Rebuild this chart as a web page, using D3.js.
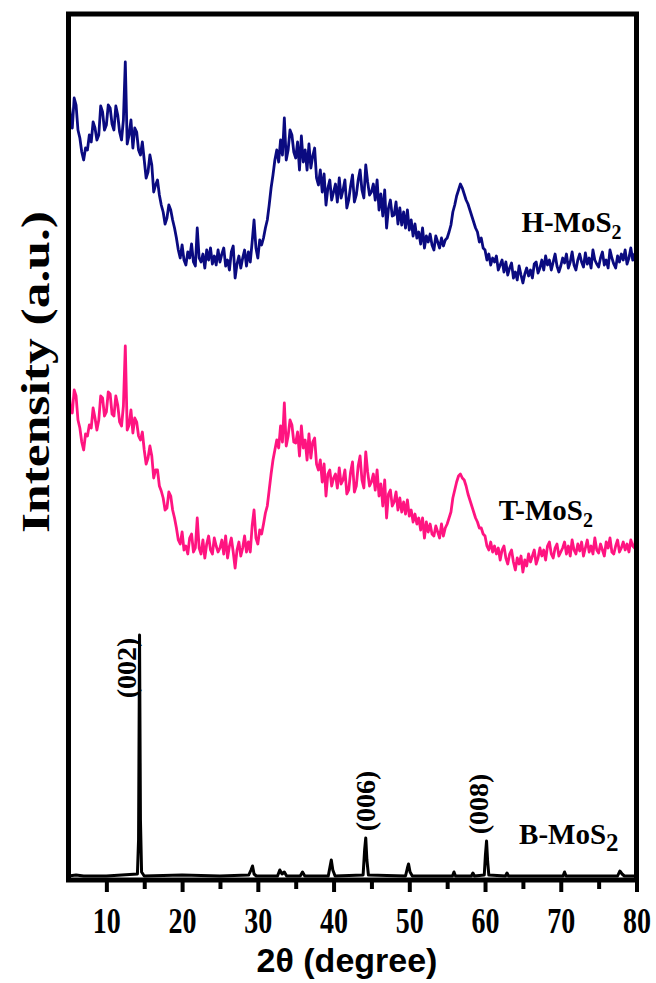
<!DOCTYPE html>
<html>
<head>
<meta charset="utf-8">
<script src="https://cdn.jsdelivr.net/npm/d3@7"></script>
<style>
  body { margin: 0; background: #fff; }
  svg { display: block; }
</style>
</head>
<body>
<script>
const w = 656;
const h = 983;

// 2theta grid for the two broad patterns (0.25 deg steps, 5..80)
const angles = d3.range(5, 80.001, 0.25);

// H-MoS2 intensity (a.u., before offset), one row = 5 degrees
const hMoS2 = [
  225, 205, 192, 222, 215, 190, 182, 168, 160, 172, 170, 185, 178, 198, 192, 180, 185, 214, 208, 190,
  195, 215, 212, 196, 190, 214, 205, 188, 180, 200, 258, 176, 185, 200, 172, 192, 188, 170, 165, 178,
  160, 142, 148, 165, 155, 128, 135, 140, 125, 115, 108, 96, 102, 115, 110, 100, 92, 82, 70, 62,
  75, 60, 55, 68, 62, 76, 58, 54, 92, 62, 58, 66, 52, 70, 60, 72, 56, 64, 55, 70,
  58, 66, 72, 54, 60, 50, 68, 74, 42, 56, 64, 52, 62, 70, 54, 68, 58, 78, 100, 72,
  62, 80, 75, 82, 92, 100, 115, 132, 145, 160, 170, 158, 180, 165, 202, 160, 170, 190, 185, 168,
  162, 178, 150, 184, 158, 170, 150, 176, 152, 164, 172, 142, 135, 150, 128, 146, 115, 132, 140, 120,
  128, 136, 118, 142, 122, 130, 140, 112, 120, 134, 145, 118, 125, 140, 150, 130, 122, 155, 138, 125,
  128, 136, 120, 140, 110, 126, 104, 130, 92, 112, 120, 104, 105, 118, 96, 112, 95, 108, 92, 110,
  90, 100, 84, 96, 82, 88, 76, 92, 72, 84, 78, 86, 75, 70, 84, 78, 72, 82, 74, 80,
  82, 88, 95, 108, 115, 124, 130, 136, 132, 126, 120, 116, 110, 104, 98, 92, 88, 78, 82, 72,
  70, 60, 66, 55, 62, 58, 64, 50, 55, 60, 48, 58, 45, 52, 57, 42, 48, 40, 54, 45,
  37, 46, 52, 44, 50, 42, 56, 58, 47, 52, 60, 50, 64, 55, 60, 50, 58, 66, 54, 48,
  54, 62, 57, 66, 52, 58, 68, 55, 50, 60, 66, 58, 53, 67, 56, 62, 52, 70, 60, 56,
  53, 62, 68, 55, 60, 52, 70, 62, 56, 52, 64, 58, 66, 60, 70, 56, 62, 72, 60, 66,
  48
];

// T-MoS2 intensity (a.u., before offset)
const tMoS2 = [
  228, 200, 195, 218, 212, 188, 180, 166, 158, 174, 172, 183, 180, 200, 190, 178, 188, 212, 210, 192,
  196, 216, 214, 194, 192, 212, 203, 186, 182, 202, 262, 178, 183, 198, 175, 190, 186, 172, 168, 176,
  158, 144, 150, 162, 152, 130, 138, 138, 122, 117, 110, 98, 100, 116, 112, 98, 90, 80, 68, 64,
  76, 58, 62, 54, 70, 74, 56, 60, 90, 60, 54, 68, 50, 64, 72, 58, 54, 70, 62, 56,
  60, 68, 54, 72, 50, 62, 70, 56, 40, 58, 66, 52, 60, 72, 56, 66, 56, 82, 98, 70,
  64, 78, 74, 84, 95, 102, 118, 134, 148, 158, 168, 160, 182, 166, 205, 162, 172, 188, 183, 166,
  165, 176, 152, 182, 160, 168, 148, 174, 150, 166, 170, 144, 138, 148, 126, 144, 112, 134, 138, 122,
  130, 134, 120, 140, 124, 128, 138, 114, 118, 136, 146, 116, 122, 142, 152, 128, 120, 156, 136, 122,
  126, 134, 118, 138, 112, 124, 102, 128, 90, 114, 118, 102, 106, 116, 98, 110, 96, 106, 94, 108,
  92, 98, 86, 94, 84, 90, 78, 90, 70, 86, 76, 84, 74, 72, 82, 76, 70, 84, 72, 80,
  84, 90, 96, 110, 118, 126, 132, 134, 130, 128, 122, 114, 108, 102, 96, 90, 86, 80, 80, 74,
  72, 62, 58, 66, 56, 62, 54, 60, 48, 58, 62, 50, 44, 54, 58, 46, 38, 50, 44, 52,
  36, 48, 42, 54, 46, 52, 58, 44, 50, 60, 52, 58, 48, 62, 66, 54, 50, 60, 64, 52,
  56, 60, 66, 54, 62, 52, 68, 58, 54, 64, 57, 66, 52, 60, 68, 56, 62, 54, 70, 58,
  55, 64, 58, 52, 66, 60, 70, 56, 54, 62, 68, 56, 60, 66, 58, 64, 56, 68, 62, 60,
  80
];

// B-MoS2 (bulk) pattern, sharp reflections
const bAngles = [
  5, 6, 7, 10, 14.1, 14.25, 14.38, 14.5, 14.65, 15, 20, 25, 28.8, 29.1, 29.3, 29.5, 29.8,
  32.6, 32.9, 33.2, 33.5, 33.8, 35.6, 35.9, 36.2, 39.3, 39.5, 39.7, 39.9, 40.2,
  43.9, 44.1, 44.25, 44.4, 44.6, 49.5, 49.75, 49.9, 50.1, 50.4, 55.7, 55.9, 56.1,
  58.2, 58.4, 58.6, 59.9, 60.05, 60.2, 60.35, 60.5, 62.7, 62.9, 63.1,
  70.3, 70.5, 70.7, 77.5, 77.8, 78.1, 78.4, 80
];
const bMoS2 = [
  4, 5, 4, 4, 6, 40, 245, 60, 8, 4, 5, 4, 5, 10, 14, 6, 4,
  4, 10, 6, 8, 4, 4, 8, 4, 4, 12, 20, 10, 4,
  5, 30, 42, 20, 5, 4, 12, 16, 8, 4, 4, 8, 4,
  4, 7, 4, 5, 25, 39, 18, 5, 4, 7, 4,
  4, 8, 4, 4, 9, 6, 4, 4
];

const offsets = { H: 560, T: 272, B: 0 };

const xTicks = [10, 20, 30, 40, 50, 60, 70, 80];
const xMinorTicks = [15, 25, 35, 45, 55, 65, 75];

const peakLabels = ["(002)", "(006)", "(008)"];
const peakAngles = [14.38, 44.25, 60.2];
const peakHeights = [245, 42, 39];

const svg = d3.select("body").append("svg")
  .attr("width", w)
  .attr("height", h);

const mLeft = 68.5, mRight = 636.5, mTop = 14, mBottom = 880;

const xScale = d3.scaleLinear().domain([5, 80]).range([mLeft, mRight]);
const yScale = d3.scaleLinear().domain([0, 866]).range([mBottom, mTop]);

const line = d3.line()
  .x(d => xScale(d[0]))
  .y(d => yScale(d[1]));

function series(xs, ys, off) {
  return ys.map((v, i) => [xs[i], v + off]).filter(d => d[0] !== undefined);
}

const plot = svg.append("g");

plot.append("path")
  .datum(series(angles, hMoS2, offsets.H))
  .attr("fill", "none")
  .attr("stroke", "#0a0a80")
  .attr("stroke-width", 2.8)
  .attr("stroke-linejoin", "round")
  .attr("d", line);

plot.append("path")
  .datum(series(angles, tMoS2, offsets.T))
  .attr("fill", "none")
  .attr("stroke", "#ff1480")
  .attr("stroke-width", 2.8)
  .attr("stroke-linejoin", "round")
  .attr("d", line);

plot.append("path")
  .datum(series(bAngles, bMoS2, offsets.B))
  .attr("fill", "none")
  .attr("stroke", "#000")
  .attr("stroke-width", 3)
  .attr("stroke-linejoin", "round")
  .attr("d", line);

// frame
svg.append("rect")
  .attr("x", mLeft)
  .attr("y", mTop)
  .attr("width", mRight - mLeft)
  .attr("height", mBottom - mTop)
  .attr("fill", "none")
  .attr("stroke", "#000")
  .attr("stroke-width", 5);

// x axis
const xAxis = d3.axisBottom(xScale)
  .tickValues(xTicks)
  .tickSize(10)
  .tickPadding(16)
  .tickFormat(d3.format("d"));

const gx = svg.append("g")
  .attr("transform", "translate(0," + (mBottom + 2) + ")")
  .call(xAxis);
gx.select(".domain").remove();
gx.selectAll(".tick line").attr("stroke", "#000").attr("stroke-width", 4);
gx.selectAll(".tick text")
  .attr("fill", "#000")
  .attr("transform", "scale(0.8,1)")
  .style("font-family", "'Liberation Serif', 'Times New Roman', serif")
  .style("font-weight", "bold")
  .style("font-size", "35px");

const gxm = svg.append("g")
  .attr("transform", "translate(0," + (mBottom + 2) + ")")
  .call(d3.axisBottom(xScale).tickValues(xMinorTicks).tickSize(7).tickFormat(""));
gxm.select(".domain").remove();
gxm.selectAll(".tick line").attr("stroke", "#000").attr("stroke-width", 4);

// axis titles
svg.append("text")
  .attr("x", 347)
  .attr("y", 972)
  .attr("text-anchor", "middle")
  .style("font-family", "'Liberation Sans', Arial, sans-serif")
  .style("font-weight", "bold")
  .style("font-size", "34px")
  .text("2\u03B8 (degree)");

svg.append("text")
  .attr("transform", "translate(49,372) rotate(-90)")
  .attr("text-anchor", "middle")
  .attr("textLength", 322)
  .attr("lengthAdjust", "spacingAndGlyphs")
  .style("font-family", "'Liberation Serif', 'Times New Roman', serif")
  .style("font-weight", "bold")
  .style("font-size", "41px")
  .text("Intensity (a.u.)");

// series labels
const seriesLabels = [
  { name: "H-MoS", x: 64.8, y: offsets.H + 88, sub: 20, dy: 7 },
  { name: "T-MoS", x: 61.8, y: offsets.T + 88, sub: 20, dy: 7 },
  { name: "B-MoS", x: 64.5, y: offsets.B + 36, sub: 25, dy: 7 }
];
seriesLabels.forEach(s => {
  const t = svg.append("text")
    .attr("x", xScale(s.x))
    .attr("y", yScale(s.y))
    .style("font-family", "'Liberation Serif', 'Times New Roman', serif")
    .style("font-weight", "bold")
    .style("font-size", "29px")
    .text(s.name);
  t.append("tspan")
    .attr("dy", s.dy)
    .style("font-size", s.sub + "px")
    .text("2");
});

// reflection labels
peakLabels.forEach((lab, i) => {
  const px = xScale(peakAngles[i]) - (i === 0 ? 13 : i === 1 ? 0 : 8);
  const py = yScale(peakHeights[i]) + (i === 0 ? 33 : -37);
  svg.append("text")
    .attr("transform", "translate(" + (px + 9) + "," + py + ") rotate(-90)")
    .attr("text-anchor", "middle")
    .style("font-family", "'Liberation Serif', 'Times New Roman', serif")
    .style("font-weight", "bold")
    .style("font-size", "28px")
    .text(lab);
});
</script>
</body>
</html>
